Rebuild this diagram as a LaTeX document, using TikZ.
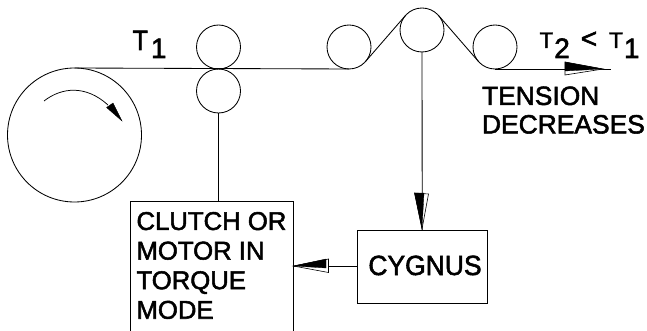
\documentclass[tikz,border=0pt]{standalone}
\usepackage{fontspec}
\setmainfont{Liberation Sans}
\newfontfamily\heavy{Liberation Sans}[FakeBold=2]
\begin{document}
\begin{tikzpicture}[x=1pt,y=-1pt,line width=0.85pt,
  roller/.style={draw,circle,minimum size=44pt,inner sep=0pt,outer sep=0pt},
  spool/.style={draw,circle,minimum size=134pt,inner sep=0pt,outer sep=0pt},
  block/.style={draw,rectangle,inner sep=0pt,outer sep=0pt},
  lab/.style={inner sep=0pt,outer sep=0pt,font=\heavy\fontsize{25.7}{29.6}\selectfont},
  headfill/.style={fill=black,draw=black,line width=0.3pt},
  headline/.style={fill=white,draw=black,line width=0.6pt}]
\useasboundingbox (0,0) rectangle (647,331);
\node[spool] (spool) at (74.5,135) {};
\node[roller] (A) at (218.5,47) {};
\node[roller] (B) at (218.5,91) {};
\node[roller] (C) at (349,47) {};
\node[roller] (D) at (422,30) {};
\node[roller] (E) at (495,47) {};
\node[block,minimum width=163pt,minimum height=130pt] (clutch) at (211.5,266.5) {};
\node[lab,anchor=north west,align=left] (clutchtext) at (136.5,212) {CLUTCH OR\\MOTOR IN\\TORQUE\\MODE};
\node[block,minimum width=130.5pt,minimum height=73pt] (cyg) at (422.25,266.5) {};
\node[lab,anchor=base] (cygtext) at (425,275) {\scalebox{1.03}[1.08]{CYGNUS}};
\coordinate (end) at (611,69);
% web
\draw (spool.north) -- (C.south);
\draw (C.-41) -- (D.139);
\draw (D.41) -- (E.221);
\draw (E.south) -- (end);
\draw (B.south) -- (clutch.north -| B.south);
\draw (D.south) -- (cyg.north);
\draw (cyg.west) -- (clutch.east);
% rotation arrow
\draw[line width=0.75pt] (44,101) .. controls (62,87) and (86,85) .. (108,105);
\path[headfill] (122,121) -- (113,103) -- (106.5,107.5) -- cycle;
% half-filled arrowheads
\path[headline] (422,229) -- (428.5,194) -- (414.5,193) -- cycle;
\path[headfill] (422,229) -- (424,193) -- (414.5,193) -- cycle;
\path[headline] (293.5,266) -- (328.5,272.5) -- (328.5,259) -- cycle;
\path[headfill] (293.5,266) -- (326,268) -- (326,259) -- cycle;
\path[headline] (603,69) -- (565,75) -- (565,62) -- cycle;
\path[headfill] (603,69) -- (565,71) -- (565,62) -- cycle;
% labels
\node[lab,anchor=base west] (t1) at (132.5,50)
  {\fontsize{28}{28}\selectfont\scalebox{0.9}[1]{T}\hspace{3pt}\raisebox{-8pt}{1}};
\node[lab,anchor=base west] (t2) at (539.5,48)
  {\fontsize{22.5}{28}\selectfont T\hspace{1pt}\raisebox{-10pt}{\fontsize{28}{28}\selectfont 2}\hspace{11pt}{\fontsize{28}{28}\selectfont <}\hspace{12pt}T\hspace{1pt}\raisebox{-10pt}{\fontsize{28}{28}\selectfont 1}};
\node[lab,anchor=north west,align=left,font=\heavy\fontsize{26.4}{28.5}\selectfont] (tens) at (482,86.5)
  {TENSION\\DECREASES};
\end{tikzpicture}
\end{document}
